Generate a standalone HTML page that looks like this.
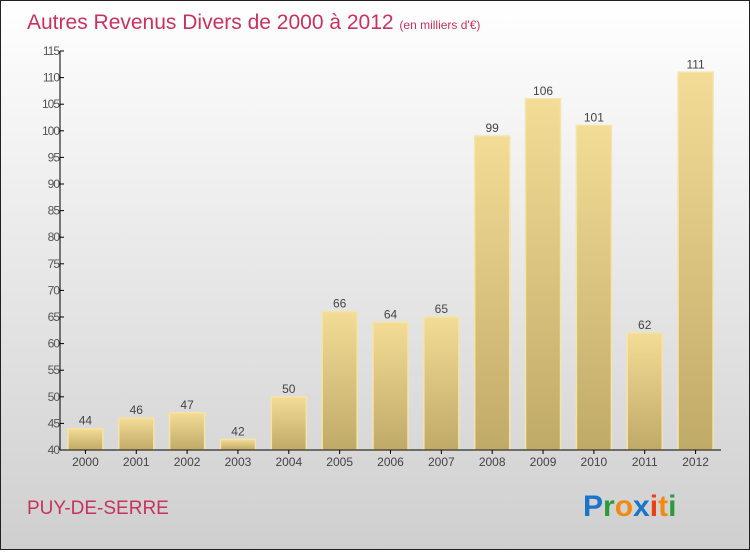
<!DOCTYPE html>
<html><head><meta charset="utf-8"><style>
body{margin:0}
#c{width:750px;height:550px;position:relative;font-family:"Liberation Sans",sans-serif}
</style></head><body>
<div id="c">
<svg id="s" width="750" height="550" xmlns="http://www.w3.org/2000/svg">
<defs>
<linearGradient id="bg" x1="0" y1="0" x2="0" y2="1"><stop offset="0" stop-color="#ffffff"/><stop offset="1" stop-color="#cfcfcf"/></linearGradient>
<linearGradient id="bar" x1="0" y1="0" x2="0" y2="1"><stop offset="0" stop-color="#f3dc95"/><stop offset="1" stop-color="#c0aa68"/></linearGradient>
</defs>
<rect x="0.5" y="0.5" width="749" height="549" fill="url(#bg)" stroke="#222"/>
<text x="27" y="29" font-size="21" fill="#c8325f">Autres Revenus Divers de 2000 à 2012 <tspan font-size="12">(en milliers d'€)</tspan></text>
<text x="27" y="514" font-size="19" fill="#c8325f">PUY-DE-SERRE</text>
<g font-size="30" font-weight="bold" font-family="'Liberation Sans',sans-serif">
<text x="583" y="516"><tspan fill="#1a74c8">P</tspan><tspan fill="#2a9a3a">r</tspan><tspan fill="#f08a10">o</tspan><tspan fill="#1a74c8">x</tspan><tspan fill="#e84010">i</tspan><tspan fill="#f08a10">t</tspan><tspan fill="#2a9a3a">i</tspan></text>
</g>
<g id="plot"></g>
</svg>
</div>
<script>
const years=["2000","2001","2002","2003","2004","2005","2006","2007","2008","2009","2010","2011","2012"];
const values=[44,46,47,42,50,66,64,65,99,106,101,62,111];
const yTicks=[40,45,50,55,60,65,70,75,80,85,90,95,100,105,110,115];
const NS="http://www.w3.org/2000/svg";
const g=document.getElementById('plot');
const x0=60,x1=721,yMin=40,yMax=115,yB=450,yT=51;
const slot=(x1-x0)/years.length;
const Y=v=>yB-(v-yMin)/(yMax-yMin)*(yB-yT);
const X=i=>x0+slot*(i+0.5);
function el(t,a){const e=document.createElementNS(NS,t);for(const k in a)e.setAttribute(k,a[k]);g.appendChild(e);return e;}
years.forEach((yr,i)=>{
 const r=el('rect',{x:X(i)-17.5,y:Y(values[i]),width:35,height:yB-Y(values[i]),fill:'url(#bar)',stroke:'#f5e3a8','stroke-width':1.5});
 
 
 const t=el('text',{x:X(i),y:Y(values[i])-4,'text-anchor':'middle','font-size':12,fill:'#444'});
 t.textContent=values[i];
 
 
 const xl=el('text',{x:X(i),y:466,'text-anchor':'middle','font-size':12,fill:'#444'});
 xl.textContent=yr;
 
 
 const tk=el('line',{x1:X(i),x2:X(i),y1:yB,y2:yB+4,stroke:'#000'});
 
 
});
yTicks.forEach(v=>{
 const tk=el('line',{x1:x0,x2:x0+4,y1:Y(v),y2:Y(v),stroke:'#000'});
 
 
 const t=el('text',{x:x0-1,y:Y(v)+4,'text-anchor':'end','font-size':12,fill:'#555','letter-spacing':'-1'});
 t.textContent=v;
 
 
});
const ya=el('line',{x1:x0,x2:x0,y1:yT,y2:yB,stroke:'#000'});


const xa=el('line',{x1:x0,x2:x1,y1:yB,y2:yB,stroke:'#000'});


</script>
</body></html>
